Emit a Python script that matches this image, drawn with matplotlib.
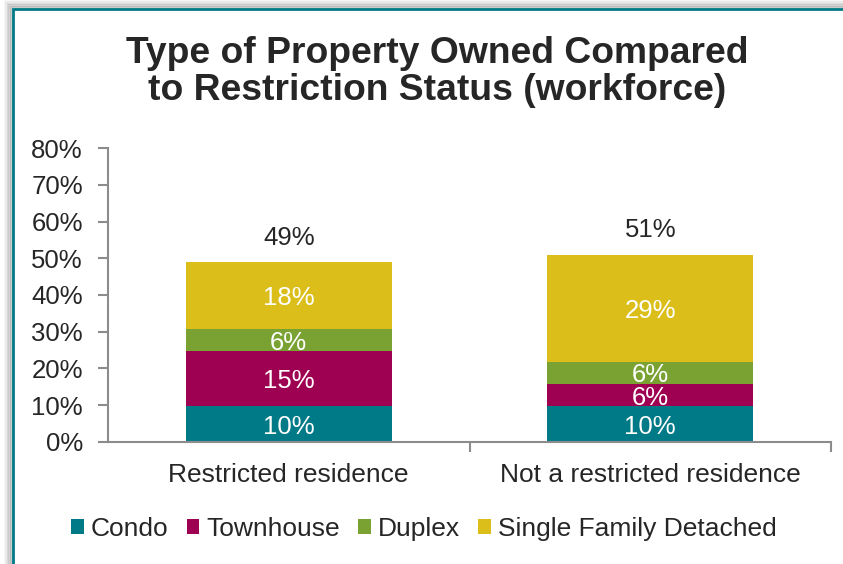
import matplotlib
matplotlib.use("Agg")
import matplotlib.pyplot as plt
from matplotlib.patches import Rectangle
import numpy as np

plt.rcParams['font.family'] = ['Liberation Sans', 'DejaVu Sans']

categories = ["Restricted residence", "Not a restricted residence"]
series = ["Condo", "Townhouse", "Duplex", "Single Family Detached"]
condo = [9.6, 9.6]
townhouse = [15.0, 6.1]
duplex = [6.2, 6.1]
single_family = [18.1, 29.2]
yticks = [0, 10, 20, 30, 40, 50, 60, 70, 80]

colors = ["#007A87", "#9E0052", "#7AA233", "#DBBE1A"]
text_col = "#262626"
axis_col = "#8C8C8C"

fig = plt.figure(figsize=(8.43, 5.64), dpi=100)

# frame with a soft shadow
for k, a in enumerate([0.03, 0.05, 0.07, 0.09, 0.12]):
    off = (5 - k) * 1.5
    fig.patches.append(Rectangle(((13 - off) / 843, -0.1), 1.2, (564 - 9 + off) / 564 + 0.1,
                                 transform=fig.transFigure, facecolor="none",
                                 edgecolor="black", alpha=a, lw=3, zorder=-3))
fig.patches.append(Rectangle((13 / 843, -0.1), 1.2, (564 - 9) / 564 + 0.1,
                             transform=fig.transFigure, facecolor="white",
                             edgecolor="#007A87", lw=2, zorder=-2))

ax = fig.add_axes([108 / 843, (564 - 441.7) / 564, (831 - 108) / 843, (441.7 - 148.3) / 564])
ax.set_facecolor("none")
ax.set_zorder(2)

x = np.arange(len(categories))
data = [condo, townhouse, duplex, single_family]
bottom = np.zeros(len(categories))
width = 0.57
for vals, name, c in zip(data, series, colors):
    vals = np.array(vals)
    ax.bar(x, vals, width, bottom=bottom, color=c, label=name, zorder=2)
    for xi, b, v in zip(x, bottom, vals):
        ax.text(xi, b + v / 2, "%d%%" % int(np.floor(v + 0.5)), ha="center", va="center_baseline",
                color="white", fontsize=18.5, zorder=3)
    bottom = bottom + vals

for xi, t in zip(x, bottom):
    ax.text(xi, t + 6.6, "%d%%" % int(np.floor(t + 0.5)), ha="center", va="center",
            color=text_col, fontsize=18.5)

ax.set_xlim(-0.5, 1.5)
ax.set_ylim(0, 80)
ax.set_yticks(yticks)
ax.set_yticklabels(["%d%%" % v for v in yticks])
ax.set_xticks([0.5, 1.5], minor=False)
ax.set_xticklabels([])
ax.set_xticks(x, minor=True)
ax.set_xticklabels(categories, minor=True)
ax.tick_params(axis="x", which="minor", length=0, pad=15.5, labelsize=19, labelcolor=text_col)
ax.tick_params(axis="x", which="major", length=7, color=axis_col, width=1.5)
ax.tick_params(axis="y", length=7, color=axis_col, width=1.5, labelsize=18.5, labelcolor=text_col, pad=11)
for s in ["top", "right"]:
    ax.spines[s].set_visible(False)
for s in ["left", "bottom"]:
    ax.spines[s].set_color(axis_col)
    ax.spines[s].set_linewidth(1.5)

fig.text(437 / 843, 1 - 72 / 564, "Type of Property Owned Compared\nto Restriction Status (workforce)",
         ha="center", va="center", fontsize=26.8, fontweight="bold", color=text_col,
         linespacing=1.1)

leg = fig.legend(loc="center", bbox_to_anchor=(424 / 843, 1 - 529 / 564), ncol=4,
                 frameon=False, fontsize=19, handlelength=0.49, handleheight=0.49,
                 handletextpad=0.27, columnspacing=0.68, labelcolor=text_col)

fig.savefig("out.png", dpi=100)
